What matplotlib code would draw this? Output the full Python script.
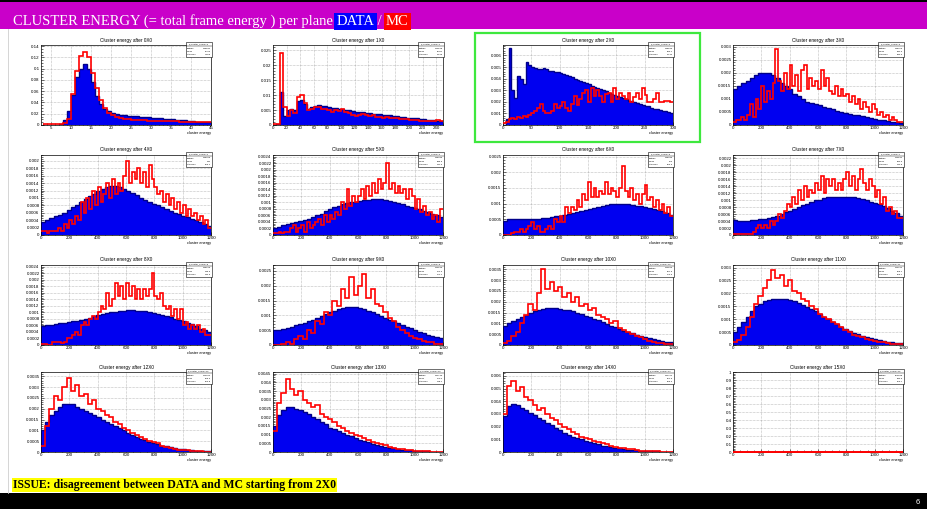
import numpy as np
import matplotlib
matplotlib.use('Agg')
import matplotlib.pyplot as plt
from matplotlib.patches import Rectangle
from matplotlib.ticker import MultipleLocator, AutoMinorLocator, FuncFormatter

plt.rcParams['font.family'] = ['Liberation Sans', 'DejaVu Sans']
plt.rcParams['xtick.labelsize'] = 3.2
plt.rcParams['ytick.labelsize'] = 3.2

W, H = 928, 509

planes = ['0X0', '1X0', '2X0', '3X0', '4X0', '5X0', '6X0', '7X0',
          '8X0', '9X0', '10X0', '11X0', '12X0', '13X0', '14X0', '15X0']

# ---- histogram contents (DATA = blue, MC = red) ----
data_0x0 = [0, 0, 0, 0.0005, 0.002, 0.008, 0.025, 0.053, 0.085, 0.1, 0.108, 0.1, 0.077, 0.052,
            0.037, 0.029, 0.024, 0.021, 0.019, 0.018, 0.017, 0.0165, 0.016, 0.0155, 0.015, 0.0145,
            0.014, 0.013, 0.0125, 0.012, 0.011, 0.0105, 0.01, 0.0093, 0.0086, 0.008, 0.0072,
            0.0065, 0.006, 0.0055, 0.005, 0.0045]
mc_0x0 = [0.002, 0.002, 0.002, 0.002, 0.002, 0.003, 0.01, 0.055, 0.095, 0.123, 0.13, 0.12, 0.093,
          0.065, 0.045, 0.03, 0.022, 0.017, 0.014, 0.012, 0.011, 0.01, 0.0095, 0.009, 0.0085,
          0.008, 0.0078, 0.0076, 0.0074, 0.0072, 0.007, 0.0068, 0.0066, 0.0064, 0.0062, 0.006,
          0.0058, 0.0056, 0.0054, 0.005, 0.0048, 0.0046]

data_1x0 = [0, 0.0003, 0.011, 0.003, 0.005, 0.0055, 0.005, 0.008, 0.0085, 0.007, 0.0055, 0.006,
            0.0065, 0.0068, 0.0065, 0.0062, 0.006, 0.0058, 0.0056, 0.0055, 0.0053, 0.0051, 0.0049,
            0.0047, 0.0045, 0.0044, 0.0042, 0.0041, 0.004, 0.0038, 0.0037, 0.0036, 0.0034, 0.0033,
            0.0032, 0.003, 0.0029, 0.0028, 0.0027, 0.0025, 0.0024, 0.0023, 0.0022, 0.0021, 0.002,
            0.0018, 0.0017, 0.0016, 0.0015, 0.0013]
mc_1x0 = [0.0003, 0.0003, 0.024, 0.006, 0.003, 0.005, 0.004, 0.0095, 0.01, 0.0075, 0.005, 0.0055,
          0.006, 0.006, 0.0055, 0.0052, 0.005, 0.0045, 0.005, 0.0048, 0.0052, 0.0045, 0.004, 0.0035,
          0.003, 0.0032, 0.0038, 0.0035, 0.003, 0.0032, 0.0028, 0.0027, 0.0025, 0.0026, 0.0024,
          0.0022, 0.0023, 0.002, 0.0021, 0.0019, 0.0018, 0.0017, 0.0016, 0.0015, 0.0015, 0.0014,
          0.0013, 0.0014, 0.0016, 0.0012]

data_2x0 = [0, 0.0005, 0.0066, 0.003, 0.0023, 0.0042, 0.004, 0.0035, 0.0054, 0.0052, 0.005, 0.0049,
            0.0048, 0.0048, 0.0049, 0.0048, 0.0047, 0.0047, 0.0046, 0.0046, 0.0045, 0.0044, 0.0043,
            0.0042, 0.0041, 0.004, 0.0039, 0.0038, 0.0037, 0.0036, 0.0035, 0.0034, 0.0033, 0.0032,
            0.0031, 0.003, 0.0029, 0.0028, 0.0027, 0.0026, 0.0025, 0.0024, 0.0023, 0.0022, 0.0021,
            0.0021, 0.002, 0.0019, 0.0018, 0.0017, 0.0016, 0.0016, 0.0015, 0.0014, 0.0014, 0.0013,
            0.0012, 0.0012, 0.0011, 0.001]
mc_2x0 = [0.0002, 0.0003, 0.0005, 0.0006, 0.0005, 0.0007, 0.0006, 0.0008, 0.0007, 0.0009, 0.001,
          0.0012, 0.0015, 0.0018, 0.0012, 0.001, 0.001, 0.0012, 0.0018, 0.0015, 0.0016, 0.002,
          0.0015, 0.0012, 0.0018, 0.0025, 0.0017, 0.0022, 0.0028, 0.003, 0.002, 0.0032, 0.0025,
          0.003, 0.0025, 0.002, 0.0027, 0.0028, 0.002, 0.0032, 0.0022, 0.0028, 0.0025, 0.0022,
          0.0028, 0.002, 0.0024, 0.0028, 0.0022, 0.0032, 0.0026, 0.002, 0.002, 0.0022, 0.0028,
          0.002, 0.002, 0.0021, 0.0021, 0.002]

data_3x0 = [0.0014, 0.0015, 0.0016, 0.0017, 0.0018, 0.0019, 0.002, 0.002, 0.002, 0.0019, 0.0018,
            0.0016, 0.0015, 0.0014, 0.0012, 0.0011, 0.001, 0.0009, 0.00085, 0.0008, 0.00075, 0.0007,
            0.00065, 0.0006, 0.00055, 0.0005, 0.00047, 0.00043, 0.0004, 0.00037, 0.00034, 0.0003,
            0.00027, 0.00024, 0.0002, 0.00018, 0.00015, 0.00012, 0.0001, 0.00008]
mc_3x0 = [0.0001, 0.0002, 0.0002, 0.0003, 0.0002, 0.0004, 0.0008, 0.0003, 0.001, 0.0006,
          0.0015, 0.0009, 0.0013, 0.001, 0.0016, 0.0029, 0.0017, 0.0013, 0.002, 0.0014,
          0.0023, 0.0015, 0.0019, 0.0013, 0.0021, 0.0023, 0.0014, 0.0018, 0.0015, 0.0017,
          0.0014, 0.0021, 0.0015, 0.0018, 0.0013, 0.0012, 0.0015, 0.0011, 0.0014, 0.0011,
          0.0012, 0.0009, 0.0011, 0.0008, 0.001, 0.0006, 0.0009, 0.0007, 0.0005, 0.0008,
          0.0006, 0.0004, 0.0005, 0.0003, 0.0004, 0.0002, 0.0003, 0.0002, 0.0001, 0.0001]

data_4x0 = [0.00035, 0.0004, 0.00045, 0.0005, 0.00055, 0.0006, 0.00068, 0.00075, 0.00082, 0.0009,
            0.00097, 0.00105, 0.0011, 0.00118, 0.00124, 0.0013, 0.00133, 0.00132, 0.0013, 0.00125,
            0.0012, 0.00114, 0.00108, 0.001, 0.00095, 0.0009, 0.00085, 0.0008, 0.00075, 0.0007,
            0.00065, 0.0006, 0.00056, 0.00052, 0.00048, 0.00044, 0.0004, 0.00035, 0.0003, 0.00025]
mc_4x0 = [0.0001, 0.0001, 0.00005, 0.0001, 0.0001, 0.0001, 0.0002, 0.0001, 0.0003, 0.0002,
          0.0004, 0.0003, 0.0005, 0.0004, 0.0009, 0.0006, 0.001, 0.0007, 0.0012, 0.0008,
          0.0013, 0.0009, 0.0011, 0.0014, 0.001, 0.0015, 0.0011, 0.0014, 0.0012, 0.0016,
          0.002, 0.0014, 0.0017, 0.0015, 0.0018, 0.0014, 0.0017, 0.0013, 0.0019, 0.0015,
          0.0013, 0.0011, 0.0012, 0.0009, 0.0011, 0.0008, 0.001, 0.0007, 0.0009, 0.0006,
          0.0008, 0.0005, 0.0007, 0.0005, 0.0006, 0.0004, 0.0005, 0.0003, 0.0004, 0.0002]

data_5x0 = [0.0002, 0.00025, 0.0003, 0.00033, 0.00036, 0.0004, 0.00043, 0.00047, 0.0005, 0.00055,
            0.0006, 0.00065, 0.00072, 0.0008, 0.00085, 0.0009, 0.00095, 0.00098, 0.001, 0.00102,
            0.00104, 0.00106, 0.00108, 0.0011, 0.0011, 0.0011, 0.00108, 0.00105, 0.001, 0.00097,
            0.00094, 0.0009, 0.00087, 0.00084, 0.0008, 0.00075, 0.0007, 0.00065, 0.0006, 0.00055]
mc_5x0 = [0.00005, 0.00005, 0.0001, 0.00005, 0.0001, 0.0001, 0.0002, 0.0003, 0.0001, 0.0002,
          0.0003, 0.0001, 0.0004, 0.0002, 0.0003, 0.0004, 0.0005, 0.0003, 0.0006, 0.0004,
          0.0006, 0.0005, 0.0007, 0.0006, 0.001, 0.0008, 0.0014, 0.0009, 0.0012, 0.001,
          0.0012, 0.0014, 0.0011, 0.0015, 0.0012, 0.0016, 0.0013, 0.0017, 0.0014, 0.0016,
          0.0022, 0.0014, 0.0016, 0.0013, 0.0015, 0.0013, 0.0014, 0.0011, 0.0014, 0.0012,
          0.0008, 0.0011, 0.0007, 0.0009, 0.0006, 0.0007, 0.0005, 0.0006, 0.0004, 0.0008]

data_6x0 = [0.00045, 0.0005, 0.0005, 0.0005, 0.00051, 0.00051, 0.00052, 0.00052, 0.00052, 0.00054,
            0.00055, 0.00057, 0.0006, 0.00062, 0.00065, 0.00068, 0.0007, 0.00073, 0.00076, 0.0008,
            0.00083, 0.00086, 0.00089, 0.00092, 0.00095, 0.00098, 0.001, 0.001, 0.001, 0.00098,
            0.00096, 0.00094, 0.00092, 0.0009, 0.00087, 0.00083, 0.0008, 0.00076, 0.0007, 0.00065]
mc_6x0 = [0, 0, 0, 0.00005, 0.0001, 0.0001, 0.0002, 0.0001, 0.0002, 0.0003,
          0.0004, 0.0002, 0.0003, 0.0001, 0.0001, 0.0002, 0.0003, 0.0002, 0.0005, 0.0004,
          0.0006, 0.0004, 0.0009, 0.0007, 0.0009, 0.0008, 0.0011, 0.0009, 0.0013, 0.0011,
          0.0017, 0.0012, 0.0015, 0.0012, 0.0014, 0.0013, 0.0017, 0.0013, 0.0015, 0.0014,
          0.0012, 0.0015, 0.0022, 0.0014, 0.0012, 0.0015, 0.0011, 0.0013, 0.001, 0.0013,
          0.0016, 0.0011, 0.0012, 0.0009, 0.0011, 0.0008, 0.001, 0.0007, 0.0009, 0.0006]

data_7x0 = [0.00042, 0.0004, 0.0004, 0.0004, 0.00042, 0.00043, 0.00045, 0.00047, 0.0005, 0.00052,
            0.00056, 0.0006, 0.00065, 0.0007, 0.00075, 0.0008, 0.00085, 0.0009, 0.00095, 0.001,
            0.00102, 0.00105, 0.00108, 0.0011, 0.0011, 0.0011, 0.0011, 0.0011, 0.00108, 0.00106,
            0.00103, 0.001, 0.00096, 0.00092, 0.00088, 0.00083, 0.00078, 0.0007, 0.00062, 0.00055]
mc_7x0 = [0.00003, 0.00003, 0.00003, 0.00003, 0.00003, 0.00003, 0.00003, 0.0001, 0.0002, 0.0003,
          0.0002, 0.0003, 0.0002, 0.0004, 0.0003, 0.0004, 0.0006, 0.0005, 0.0007, 0.0009,
          0.0008, 0.0011, 0.0009, 0.0013, 0.001, 0.0014, 0.0011, 0.0013, 0.0012, 0.0015,
          0.0013, 0.0017, 0.0012, 0.0016, 0.0014, 0.0016, 0.0013, 0.0015, 0.0013, 0.0016,
          0.0018, 0.0014, 0.0017, 0.0013, 0.0016, 0.0019, 0.0015, 0.0013, 0.0016, 0.0014,
          0.0011, 0.0013, 0.0009, 0.0011, 0.0007, 0.0008, 0.0006, 0.0007, 0.0005, 0.0005]

data_8x0 = [0.00058, 0.0006, 0.00062, 0.00064, 0.00066, 0.00068, 0.0007, 0.00072, 0.00075, 0.00078,
            0.0008, 0.00084, 0.00088, 0.00092, 0.00095, 0.00098, 0.001, 0.00102, 0.00104, 0.00105,
            0.00106, 0.00106, 0.00105, 0.00104, 0.00103, 0.001, 0.00098, 0.00095, 0.00092, 0.00088,
            0.00085, 0.0008, 0.00077, 0.00073, 0.00068, 0.00063, 0.00058, 0.0005, 0.00045, 0.0004]
mc_8x0 = [0.00002, 0.00002, 0, 0, 0.0001, 0.0001, 0.0001, 0.00005, 0.0001, 0.0002,
          0.0002, 0.0003, 0.0004, 0.0003, 0.0006, 0.0007, 0.0006, 0.0008, 0.0009, 0.0008,
          0.001, 0.0012, 0.0011, 0.0016, 0.0012, 0.0014, 0.0019, 0.0015, 0.0018, 0.0014,
          0.0019, 0.0015, 0.0018, 0.0014, 0.0017, 0.0014, 0.0017, 0.0015, 0.0017, 0.0022,
          0.0015, 0.0014, 0.0016, 0.0012, 0.0011, 0.0012, 0.0009, 0.0011, 0.0008, 0.0011,
          0.0006, 0.0007, 0.0005, 0.0006, 0.0005, 0.0006, 0.0004, 0.0005, 0.0003, 0.0003]

data_9x0 = [0.0005, 0.00052, 0.00055, 0.00058, 0.00062, 0.00066, 0.0007, 0.00075, 0.0008, 0.00086,
            0.00092, 0.00098, 0.00104, 0.0011, 0.00116, 0.0012, 0.00124, 0.00127, 0.00128, 0.00127,
            0.00124, 0.0012, 0.00115, 0.0011, 0.00104, 0.00098, 0.00092, 0.00086, 0.0008, 0.00074,
            0.00068, 0.00062, 0.00056, 0.0005, 0.00045, 0.0004, 0.00035, 0.0003, 0.00026, 0.00022]
mc_9x0 = [0, 0, 0.00002, 0.0001, 0.00005, 0.0002, 0.0003, 0.0002, 0.0005, 0.0004, 0.0008, 0.0007,
          0.0011, 0.001, 0.0015, 0.0013, 0.0019, 0.0016, 0.0023, 0.0017, 0.002, 0.0024, 0.0016,
          0.0019, 0.0014, 0.0013, 0.0011, 0.0009, 0.0008, 0.0006, 0.0005, 0.0004, 0.0003, 0.00025,
          0.0002, 0.00015, 0.0001, 0.0001, 0.00005, 0.00005]

data_10x0 = [0.0009, 0.001, 0.0011, 0.0012, 0.0013, 0.0014, 0.0015, 0.00155, 0.0016, 0.00165,
             0.0017, 0.0017, 0.0017, 0.00168, 0.00164, 0.0016, 0.00155, 0.0015, 0.00143, 0.00136,
             0.0013, 0.00122, 0.00114, 0.00106, 0.00098, 0.0009, 0.00082, 0.00074, 0.00066, 0.0006,
             0.00054, 0.00048, 0.00042, 0.00037, 0.00032, 0.00028, 0.00024, 0.0002, 0.00016, 0.00013]
mc_10x0 = [0.0001, 0.0002, 0.0004, 0.0006, 0.001, 0.0014, 0.0019, 0.0016, 0.0024, 0.0035, 0.0026,
           0.0029, 0.0025, 0.0027, 0.0022, 0.0024, 0.002, 0.0022, 0.0018, 0.0019, 0.0016, 0.0017,
           0.0014, 0.0013, 0.0012, 0.001, 0.0011, 0.0008, 0.0007, 0.0006, 0.0005, 0.0004, 0.00035,
           0.0003, 0.0002, 0.00015, 0.0001, 0.0001, 0.00005, 0.00005]

data_11x0 = [0.0005, 0.0007, 0.0009, 0.0011, 0.0013, 0.0015, 0.0016, 0.0017, 0.00175, 0.0018,
             0.0018, 0.0018, 0.00178, 0.00174, 0.0017, 0.00164, 0.00156, 0.00148, 0.0014, 0.0013,
             0.0012, 0.0011, 0.001, 0.0009, 0.0008, 0.0007, 0.00062, 0.00055, 0.00048, 0.00042,
             0.00036, 0.0003, 0.00026, 0.00022, 0.00018, 0.00015, 0.00012, 0.0001, 0.00008, 0.00006]
mc_11x0 = [0.0001, 0.0002, 0.0004, 0.0007, 0.0011, 0.0016, 0.0019, 0.0022, 0.0025, 0.0029, 0.0026,
           0.0027, 0.0023, 0.0025, 0.0021, 0.002, 0.0018, 0.0017, 0.0015, 0.0014, 0.0012, 0.0011,
           0.001, 0.0009, 0.0008, 0.0007, 0.0006, 0.0005, 0.0004, 0.00035, 0.0003, 0.00025, 0.0002,
           0.00015, 0.0001, 0.0001, 0.00008, 0.00005, 0.00005, 0.00003]

data_12x0 = [0.001, 0.0014, 0.0017, 0.0019, 0.0021, 0.0022, 0.0022, 0.0022, 0.0021, 0.002, 0.0019,
             0.0018, 0.0017, 0.0016, 0.0015, 0.0014, 0.0013, 0.0012, 0.0011, 0.001, 0.0009, 0.0008,
             0.0007, 0.00062, 0.00055, 0.00048, 0.00042, 0.00036, 0.0003, 0.00026, 0.00022, 0.00018,
             0.00015, 0.00012, 0.0001, 0.00008, 0.00006, 0.00005, 0.00004, 0.00003]
mc_12x0 = [0.0003, 0.0012, 0.002, 0.0026, 0.0024, 0.003, 0.0034, 0.0028, 0.0031, 0.0026, 0.0027,
           0.0022, 0.0024, 0.002, 0.0019, 0.0017, 0.0016, 0.0014, 0.0013, 0.0011, 0.001, 0.0009,
           0.0008, 0.0007, 0.0006, 0.0005, 0.00045, 0.0004, 0.0003, 0.00025, 0.0002, 0.00015,
           0.0001, 0.0001, 0.00008, 0.00005, 0.00005, 0.00003, 0.00002, 0.00002]

data_13x0 = [0.0015, 0.0021, 0.0024, 0.0026, 0.0026, 0.0025, 0.0024, 0.0023, 0.0022, 0.002, 0.0019,
             0.0017, 0.0016, 0.0014, 0.0013, 0.0012, 0.0011, 0.001, 0.0009, 0.0008, 0.0007, 0.00062,
             0.00055, 0.00048, 0.00042, 0.00036, 0.0003, 0.00025, 0.00021, 0.00017, 0.00014,
             0.00011, 0.00009, 0.00007, 0.00005, 0.00004, 0.00003, 0.00002, 0.00002, 0.00001]
mc_13x0 = [0.0012, 0.0028, 0.0034, 0.0042, 0.0036, 0.0033, 0.0035, 0.003, 0.0028, 0.0026, 0.0027,
           0.0022, 0.002, 0.0019, 0.0017, 0.0015, 0.0014, 0.0012, 0.0011, 0.001, 0.0009, 0.0008,
           0.0007, 0.0006, 0.0005, 0.00045, 0.0004, 0.0003, 0.00025, 0.0002, 0.00015, 0.0001,
           0.0001, 0.00008, 0.00006, 0.00005, 0.00003, 0.00002, 0.00002, 0.00001]

data_14x0 = [0.0028, 0.0036, 0.0038, 0.0037, 0.0035, 0.0033, 0.0031, 0.0029, 0.0027, 0.0025, 0.0023,
             0.0021, 0.0019, 0.0017, 0.0015, 0.0013, 0.0012, 0.0011, 0.001, 0.0009, 0.0008, 0.0007,
             0.0006, 0.0005, 0.00045, 0.0004, 0.00034, 0.00028, 0.00023, 0.00019, 0.00015, 0.00012,
             0.0001, 0.00008, 0.00006, 0.00005, 0.00004, 0.00003, 0.00002, 0.00001]
mc_14x0 = [0.003, 0.0052, 0.0056, 0.0048, 0.0051, 0.0043, 0.0041, 0.0037, 0.0033, 0.0035, 0.003,
           0.0027, 0.0025, 0.0022, 0.002, 0.0018, 0.0016, 0.0014, 0.0012, 0.0011, 0.001, 0.0009,
           0.0008, 0.0007, 0.0006, 0.0005, 0.0004, 0.00035, 0.0003, 0.00025, 0.0002, 0.00015,
           0.0001, 0.0001, 0.00008, 0.00006, 0.00004, 0.00003, 0.00002, 0.00001]

data_15x0 = [0] * 40
mc_15x0 = [0] * 40

data_hists = [data_0x0, data_1x0, data_2x0, data_3x0, data_4x0, data_5x0, data_6x0, data_7x0,
              data_8x0, data_9x0, data_10x0, data_11x0, data_12x0, data_13x0, data_14x0, data_15x0]
mc_hists = [mc_0x0, mc_1x0, mc_2x0, mc_3x0, mc_4x0, mc_5x0, mc_6x0, mc_7x0,
            mc_8x0, mc_9x0, mc_10x0, mc_11x0, mc_12x0, mc_13x0, mc_14x0, mc_15x0]

# histogram range (energy) for each plane
bin_range = [(3, 45), (0, 250), (0, 300)] + [(0, 1200)] * 13

# stat box contents
stat_entries = ['286631', '285869', '289683', '286355', '286315', '286335', '286335', '285891',
                '286203', '285990', '285642', '285321', '285014', '284730', '284401', '165599']
stat_mean = ['17.62', '66.81', '132.1', '394.3', '544', '646.9', '652', '645.3',
             '589.6', '554.3', '507.6', '469.1', '466.2', '354.5', '271.9', '230.9']
stat_std = ['7.556', '54.36', '74.45', '230.3', '276.4', '281.3', '313.6', '285.8',
            '282.6', '254.1', '250.3', '226.7', '212.8', '188.1', '166.2', '173.7']

# axis settings
x_lim = [(2.5, 45), (0, 250), (0, 300)] + [(0, 1200)] * 13
x_step = [5, 20, 50] + [200] * 13
y_max = [0.142, 0.0267, 0.0069, 0.00307, 0.00216, 0.00245, 0.00255, 0.0023,
         0.00245, 0.0027, 0.0037, 0.0031, 0.0037, 0.0046, 0.0063, 1.0]
y_step = [0.02, 0.005, 0.001, 0.0005, 0.0002, 0.0002, 0.0005, 0.0002,
          0.0002, 0.0005, 0.0005, 0.0005, 0.0005, 0.0005, 0.001, 0.1]

col_left = [41, 273, 503, 733]
row_top = [45, 155, 265, 372]
ax_w, ax_h = 170, 80

fig = plt.figure(figsize=(W / 100, H / 100), dpi=100)
fig.patch.set_facecolor('white')

# background axes in pixel coordinates (y downwards)
bg = fig.add_axes([0, 0, 1, 1])
bg.set_xlim(0, W)
bg.set_ylim(H, 0)
bg.axis('off')

bg.add_patch(Rectangle((0, 0), W, 2, fc='black', ec='none'))
bg.add_patch(Rectangle((0, 2), W, 27, fc='#c900c9', ec='none'))
bg.add_patch(Rectangle((0, 493), W, 16, fc='black', ec='none'))
bg.plot([8, 8], [29, 493], color='#cfcfcf', lw=0.6)

# slide title
t1 = bg.text(13, 25, 'CLUSTER ENERGY (= total frame energy ) per plane ', color='white',
             family='Liberation Serif', fontsize=10.5, va='baseline')
t2 = bg.annotate('DATA', xy=(1, 0), xycoords=t1, va='bottom', ha='left', color='white',
                 family='Liberation Serif', fontsize=10.5,
                 bbox=dict(boxstyle='square,pad=0.15', fc='#0000ff', ec='none'))
t3 = bg.annotate(' / ', xy=(1, 0), xycoords=t2, va='bottom', ha='left', color='white',
                 family='Liberation Serif', fontsize=10.5)
t4 = bg.annotate('MC', xy=(1, 0), xycoords=t3, va='bottom', ha='left', color='white',
                 family='Liberation Serif', fontsize=10.5,
                 bbox=dict(boxstyle='square,pad=0.15', fc='#ff0000', ec='none'))

bg.text(13, 488, 'ISSUE: disagreement between DATA and MC starting from 2X0',
        family='Liberation Serif', weight='bold', fontsize=8.5, va='baseline',
        bbox=dict(boxstyle='square,pad=0.1', fc='#ffff00', ec='none'))
bg.text(918, 502, '6', color='white', fontsize=5.5, ha='center', va='center')

# green frame round the 2X0 plot
bg.add_patch(Rectangle((475, 33), 225, 109, fill=False, ec='#3ee83e', lw=1.6))

fmt = FuncFormatter(lambda v, p: '%g' % round(v, 8))

for i in range(16):
    r, c = divmod(i, 4)
    left = col_left[c]
    top = row_top[r]
    ax = fig.add_axes([left / W, 1 - (top + ax_h) / H, ax_w / W, ax_h / H])

    lo, hi = bin_range[i]
    d = np.array(data_hists[i])
    m = np.array(mc_hists[i])
    de = np.linspace(lo, hi, len(d) + 1)
    me = np.linspace(lo, hi, len(m) + 1)
    ax.stairs(d, de, fill=True, color='#0000f0', zorder=2)
    ax.stairs(d, de, color='#00008a', lw=1.0, baseline=None, zorder=3)
    if i == 15:
        ax.stairs(m, me, color='#ff0000', lw=1.4, baseline=None, zorder=4, clip_on=False)
    else:
        ax.stairs(m, me, color='#ff0000', lw=1.2, baseline=None, zorder=4)

    ax.set_xlim(*x_lim[i])
    ax.set_ylim(0, y_max[i])
    ax.xaxis.set_major_locator(MultipleLocator(x_step[i]))
    ax.yaxis.set_major_locator(MultipleLocator(y_step[i]))
    ax.xaxis.set_minor_locator(AutoMinorLocator())
    ax.yaxis.set_minor_locator(AutoMinorLocator())
    ax.yaxis.set_major_formatter(fmt)
    ax.tick_params(which='both', direction='in', top=False, right=False, width=0.4, pad=1)
    ax.tick_params(which='major', length=2.5)
    ax.tick_params(which='minor', length=1.2)
    ax.grid(True, which='major', color='#8a8a8a', lw=0.4, ls=(0, (1, 1.5)))
    ax.set_axisbelow(True)
    for s in ax.spines.values():
        s.set_linewidth(0.5)

    ax.annotate('cluster energy', xy=(1, 0), xycoords='axes fraction', xytext=(0, -6),
                textcoords='offset pixels', ha='right', va='top', fontsize=2.8)

# overlay in pixel coordinates for titles and stat boxes (above the panels)
fg = fig.add_axes([0, 0, 1, 1])
fg.set_xlim(0, W)
fg.set_ylim(H, 0)
fg.axis('off')
fg.patch.set_alpha(0)

for i in range(16):
    r, c = divmod(i, 4)
    left = col_left[c]
    top = row_top[r]
    fg.text(left + ax_w / 2, top - 5, 'Cluster energy after ' + planes[i],
            ha='center', va='center', fontsize=3.4)

    # ROOT-like stat box
    bx, by, bw, bh = left + ax_w - 25, top - 3, 26, 15
    fg.add_patch(Rectangle((bx, by), bw, bh, fc='white', ec='black', lw=0.4))
    fg.plot([bx, bx + bw], [by + 3.6, by + 3.6], color='black', lw=0.3)
    fg.text(bx + bw / 2, by + 1.9, 'h_cluster_energy' + str(i), ha='center', va='center',
            fontsize=1.7)
    rows = [('Entries', stat_entries[i]), ('Mean', stat_mean[i]), ('Std Dev', stat_std[i])]
    for k, (name, val) in enumerate(rows):
        yy = by + 6 + k * 3.2
        fg.text(bx + 1, yy, name, ha='left', va='center', fontsize=1.7)
        fg.text(bx + bw - 1, yy, val, ha='right', va='center', fontsize=1.7)

fig.savefig('out.png', dpi=100)
